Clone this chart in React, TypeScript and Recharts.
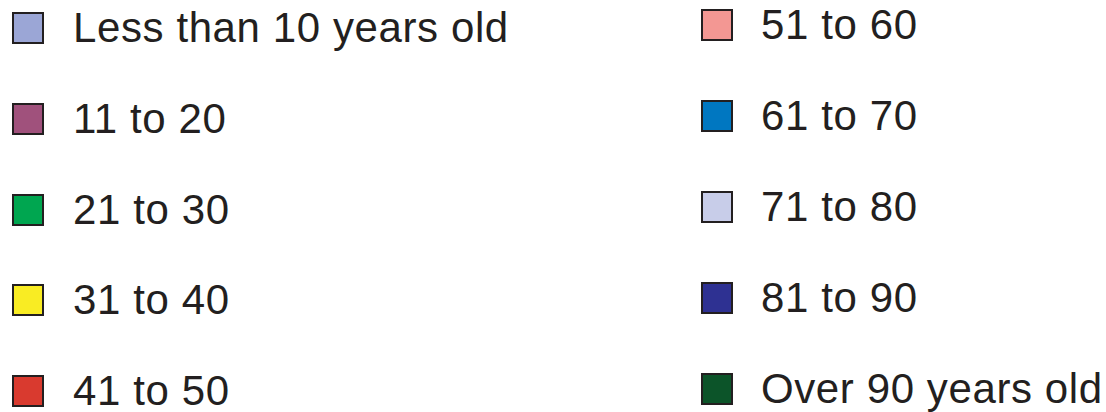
import { Bar, BarChart, Legend } from "recharts";

const groups = [
  "Less than 10 years old",
  "11 to 20",
  "21 to 30",
  "31 to 40",
  "41 to 50",
  "51 to 60",
  "61 to 70",
  "71 to 80",
  "81 to 90",
  "Over 90 years old",
];

const colors = [
  "#9ba6d6",
  "#a0517c",
  "#00a650",
  "#f9ec23",
  "#d93a2f",
  "#f39793",
  "#0077c1",
  "#c8cde9",
  "#2e3192",
  "#0c5429",
];

// no values are shown in the picture, only the key
const rows: Record<string, number>[] = [];

function Key({ payload }: { payload?: any[] }) {
  return (
    <div style={{ position: "relative", width: 1106, height: 412 }}>
      {groups.map((name, i) => {
        const entry = payload?.find((p) => p.value === name || p.dataKey === name);
        const col = i < 5 ? 0 : 1;
        const row = i % 5;
        const cy = col === 0 ? 28 + row * 90.8 : 25 + row * 91;
        const sx = col === 0 ? 12 : 701;
        const tx = col === 0 ? 73 : 761;
        return (
          <div key={name}>
            <div
              style={{
                position: "absolute",
                left: sx,
                top: cy - 16,
                width: 28,
                height: 28,
                background: entry?.color ?? colors[i],
                border: "2px solid #231f20",
              }}
            />
            <div
              style={{
                position: "absolute",
                left: tx,
                top: cy - 25,
                height: 50,
                lineHeight: "50px",
                fontFamily: "'Liberation Sans', Arial, sans-serif",
                fontSize: 42,
                letterSpacing: 0.6,
                color: "#231f20",
                whiteSpace: "nowrap",
              }}
            >
              {name}
            </div>
          </div>
        );
      })}
    </div>
  );
}

export default function App() {
  return (
    <div style={{ position: "absolute", left: 0, top: 0, width: 1106, height: 412, background: "#fff" }}>
      <BarChart width={1106} height={412} data={rows} margin={{ top: 0, right: 0, bottom: 0, left: 0 }}>
        {groups.map((g, i) => (
          <Bar key={g} dataKey={g} name={g} fill={colors[i]} isAnimationActive={false} />
        ))}
        <Legend
          content={(props: any) => <Key payload={props.payload} />}
          wrapperStyle={{ left: 0, top: 0, width: 1106, height: 412 }}
        />
      </BarChart>
    </div>
  );
}
